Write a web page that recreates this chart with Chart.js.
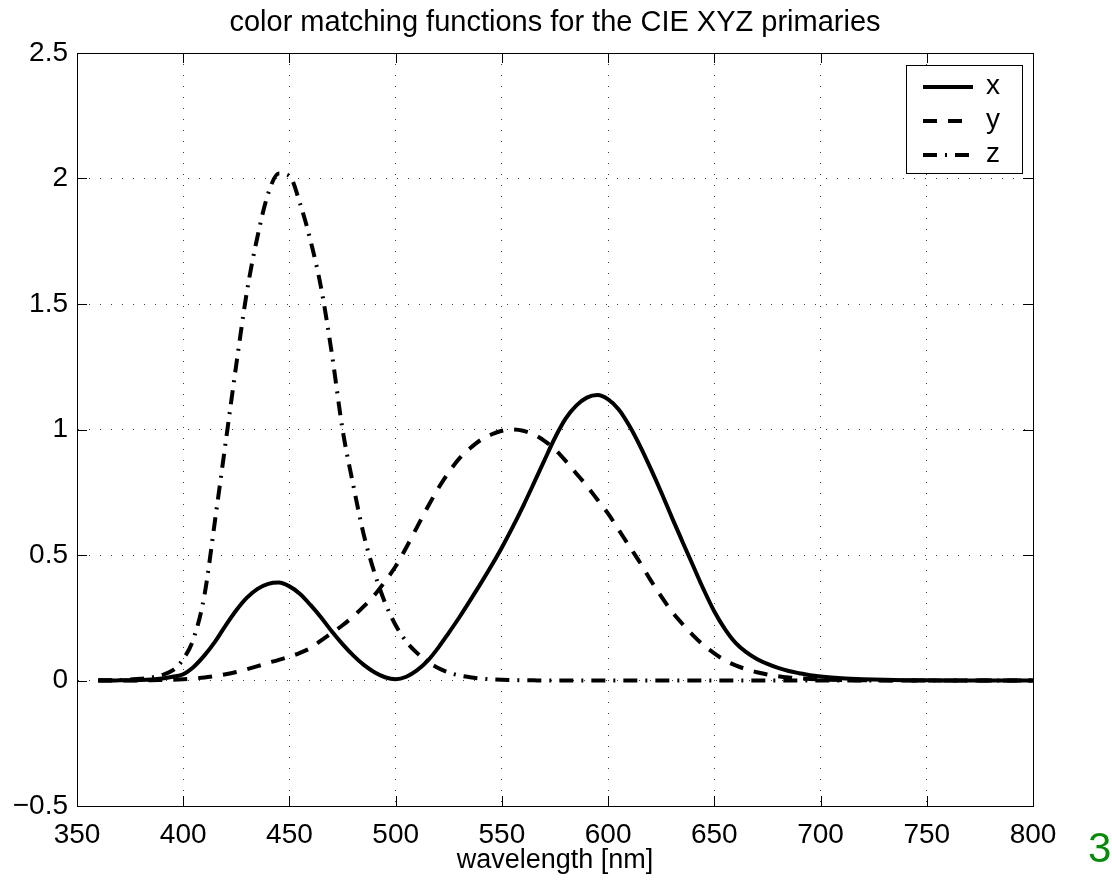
<!DOCTYPE html>
<html>
<head>
<meta charset="utf-8">
<title>color matching functions for the CIE XYZ primaries</title>
<script src="https://cdn.jsdelivr.net/npm/chart.js@4.4.0/dist/chart.umd.min.js"></script>
<style>
  html, body { margin: 0; padding: 0; background: #fff; }
  #wrap { position: relative; width: 1112px; height: 881px; }
</style>
</head>
<body>
<div id="wrap"><canvas id="cmf"></canvas></div>
<script>
// values
const wavelengths = [
    360, 365, 370, 375, 380, 385, 390, 395, 400, 405, 410, 415, 420, 425, 430, 435, 440, 445, 450, 455,
    460, 465, 470, 475, 480, 485, 490, 495, 500, 505, 510, 515, 520, 525, 530, 535, 540, 545, 550, 555,
    560, 565, 570, 575, 580, 585, 590, 595, 600, 605, 610, 615, 620, 625, 630, 635, 640, 645, 650, 655,
    660, 665, 670, 675, 680, 685, 690, 695, 700, 710, 720, 730, 740, 750, 760, 770, 780, 790, 800, 810, 820, 830
];
const xBar = [
    0, 0, 0.0005, 0.001, 0.002, 0.004, 0.008, 0.015, 0.025, 0.055, 0.10, 0.155, 0.22, 0.28, 0.33, 0.365, 0.385, 0.39, 0.375, 0.345,
    0.30, 0.25, 0.195, 0.145, 0.10, 0.062, 0.033, 0.013, 0.005, 0.015, 0.04, 0.078, 0.13, 0.19, 0.252, 0.318, 0.386, 0.456, 0.53, 0.61,
    0.695, 0.785, 0.877, 0.967, 1.043, 1.095, 1.127, 1.137, 1.12, 1.08, 1.015, 0.935, 0.845, 0.75, 0.65, 0.553, 0.457, 0.362, 0.275, 0.205,
    0.15, 0.113, 0.086, 0.066, 0.05, 0.038, 0.029, 0.021, 0.016, 0.009, 0.005, 0.0025, 0.0012, 0.0006, 0.0003, 0.0002, 0.0001, 0, 0, 0, 0, 0
];
const yBar = [
    0, 0, 0, 0, 0.0005, 0.001, 0.002, 0.003, 0.005, 0.008, 0.012, 0.018, 0.025, 0.034, 0.045, 0.057, 0.07, 0.082, 0.095, 0.11,
    0.13, 0.16, 0.19, 0.22, 0.255, 0.295, 0.34, 0.395, 0.455, 0.53, 0.61, 0.69, 0.765, 0.83, 0.885, 0.925, 0.958, 0.98, 0.995, 1.0,
    0.995, 0.98, 0.955, 0.92, 0.875, 0.825, 0.775, 0.72, 0.665, 0.60, 0.535, 0.47, 0.40, 0.335, 0.275, 0.225, 0.18, 0.14, 0.108, 0.08,
    0.06, 0.045, 0.033, 0.024, 0.017, 0.012, 0.009, 0.006, 0.004, 0.002, 0.001, 0.0005, 0.0002, 0.0001, 0, 0, 0, 0, 0, 0, 0, 0
];
const zBar = [
    0.0005, 0.001, 0.002, 0.004, 0.007, 0.012, 0.022, 0.04, 0.085, 0.17, 0.34, 0.64, 0.95, 1.26, 1.55, 1.77, 1.94, 2.02, 2.01, 1.90,
    1.75, 1.56, 1.30, 1.00, 0.78, 0.58, 0.43, 0.31, 0.22, 0.155, 0.11, 0.075, 0.05, 0.032, 0.02, 0.013, 0.008, 0.005, 0.003, 0.002,
    0.001, 0.0005, 0, 0, 0, 0, 0, 0, 0, 0, 0, 0, 0, 0, 0, 0, 0, 0, 0, 0,
    0, 0, 0, 0, 0, 0, 0, 0, 0, 0, 0, 0, 0, 0, 0, 0, 0, 0, 0, 0, 0, 0
];
const seriesNames = ['x', 'y', 'z'];
const xTickValues = [350, 400, 450, 500, 550, 600, 650, 700, 750, 800];
const yTickValues = [-0.5, 0, 0.5, 1, 1.5, 2, 2.5];
const yTickLabels = ['\u22120.5', '0', '0.5', '1', '1.5', '2', '2.5'];
const titleText = 'color matching functions for the CIE XYZ primaries';

const FONT = "'Liberation Sans', Arial, Helvetica, sans-serif";

function points(values) {
    return wavelengths.map((w, i) => ({ x: w, y: values[i] }));
}

// box on all four sides + small inward ticks, like matlab
const boxPlugin = {
    id: 'boxPlugin',
    afterDatasetsDraw(chart) {
        const { ctx, chartArea: a, scales } = chart;
        const len = 10;
        ctx.save();
        ctx.strokeStyle = '#000';
        ctx.lineWidth = 1;
        ctx.setLineDash([]);
        ctx.strokeRect(a.left + 0.5, a.top + 0.5, a.right - a.left, a.bottom - a.top);
        ctx.beginPath();
        for (const v of xTickValues) {
            const px = Math.round(scales.x.getPixelForValue(v)) + 0.5;
            ctx.moveTo(px, a.bottom); ctx.lineTo(px, a.bottom - len);
            ctx.moveTo(px, a.top); ctx.lineTo(px, a.top + len);
        }
        for (const v of yTickValues) {
            const py = Math.round(scales.y.getPixelForValue(v)) + 0.5;
            ctx.moveTo(a.left, py); ctx.lineTo(a.left + len, py);
            ctx.moveTo(a.right, py); ctx.lineTo(a.right - len, py);
        }
        ctx.stroke();
        ctx.restore();
    }
};

// title centred over the axes, not the whole canvas
const axesTitle = {
    id: 'axesTitle',
    afterDraw(chart) {
        const { ctx, chartArea: a } = chart;
        ctx.save();
        ctx.fillStyle = '#000';
        ctx.font = '29px ' + FONT;
        ctx.textAlign = 'center';
        ctx.textBaseline = 'middle';
        ctx.fillText(titleText, (a.left + a.right) / 2, 23);
        ctx.restore();
    }
};

// legend box in the upper right corner of the axes
const legendBox = {
    id: 'legendBox',
    afterDraw(chart) {
        const { ctx, chartArea: a } = chart;
        const w = 116, h = 108;
        const left = a.right - 11 - w;
        const top = a.top + 12;
        ctx.save();
        ctx.fillStyle = '#fff';
        ctx.fillRect(left, top, w, h);
        ctx.strokeStyle = '#000';
        ctx.lineWidth = 1;
        ctx.setLineDash([]);
        ctx.strokeRect(left + 0.5, top + 0.5, w, h);
        ctx.font = '28px ' + FONT;
        ctx.textBaseline = 'middle';
        ctx.textAlign = 'left';
        chart.data.datasets.forEach((ds, i) => {
            const y = top + 22 + i * 34;
            ctx.beginPath();
            ctx.setLineDash(ds.borderDash || []);
            ctx.lineWidth = ds.borderWidth;
            ctx.strokeStyle = ds.borderColor;
            ctx.moveTo(left + 17, y);
            ctx.lineTo(left + 67, y);
            ctx.stroke();
            ctx.setLineDash([]);
            ctx.fillStyle = '#000';
            ctx.fillText(ds.label, left + 80, y - 1);
        });
        ctx.restore();
    }
};

// green page number at the bottom right
const pageNumber = {
    id: 'pageNumber',
    afterDraw(chart) {
        const ctx = chart.ctx;
        ctx.save();
        ctx.fillStyle = '#0a8a0a';
        ctx.font = '42px ' + FONT;
        ctx.textAlign = 'left';
        ctx.textBaseline = 'middle';
        ctx.fillText('3', 1088, 850);
        ctx.restore();
    }
};

const ctx = document.getElementById('cmf');

new Chart(ctx, {
    type: 'line',
    data: {
        datasets: [
            {
                label: seriesNames[0],
                data: points(xBar),
                borderColor: '#000',
                borderWidth: 4,
                borderDash: [],
                pointRadius: 0,
                cubicInterpolationMode: 'monotone'
            },
            {
                label: seriesNames[1],
                data: points(yBar),
                borderColor: '#000',
                borderWidth: 4,
                borderDash: [14, 11],
                pointRadius: 0,
                cubicInterpolationMode: 'monotone'
            },
            {
                label: seriesNames[2],
                data: points(zBar),
                borderColor: '#000',
                borderWidth: 4,
                borderDash: [14, 8, 2, 8],
                pointRadius: 0,
                cubicInterpolationMode: 'monotone'
            }
        ]
    },
    options: {
        responsive: true,
        maintainAspectRatio: false,
        animation: false,
        layout: {
            padding: { left: 0, right: 79, top: 53, bottom: 0 }
        },
        plugins: {
            legend: { display: false },
            tooltip: { enabled: false },
            title: { display: false }
        },
        scales: {
            x: {
                type: 'linear',
                min: 350,
                max: 800,
                afterBuildTicks: (scale) => { scale.ticks = xTickValues.map(v => ({ value: v })); },
                afterFit: (scale) => { scale.height = 75; },
                ticks: {
                    color: '#000',
                    font: { family: FONT, size: 28 },
                    padding: 12,
                    maxRotation: 0,
                    autoSkip: false
                },
                grid: {
                    color: 'rgba(0,0,0,0.75)',
                    lineWidth: 1,
                    drawTicks: false
                },
                border: { display: true, color: '#000', width: 1, dash: [1, 10] },
                title: {
                    display: true,
                    text: 'wavelength [nm]',
                    color: '#000',
                    font: { family: FONT, size: 27 },
                    padding: { top: 0, bottom: 4 }
                }
            },
            y: {
                type: 'linear',
                min: -0.5,
                max: 2.5,
                afterBuildTicks: (scale) => { scale.ticks = yTickValues.map(v => ({ value: v })); },
                afterFit: (scale) => { scale.width = 77; },
                ticks: {
                    color: '#000',
                    font: { family: FONT, size: 28 },
                    padding: 9,
                    callback: (value) => yTickLabels[yTickValues.indexOf(value)]
                },
                grid: {
                    color: 'rgba(0,0,0,0.75)',
                    lineWidth: 1,
                    drawTicks: false
                },
                border: { display: true, color: '#000', width: 1, dash: [1, 10] }
            }
        }
    },
    plugins: [boxPlugin, axesTitle, legendBox, pageNumber]
});
</script>
</body>
</html>
